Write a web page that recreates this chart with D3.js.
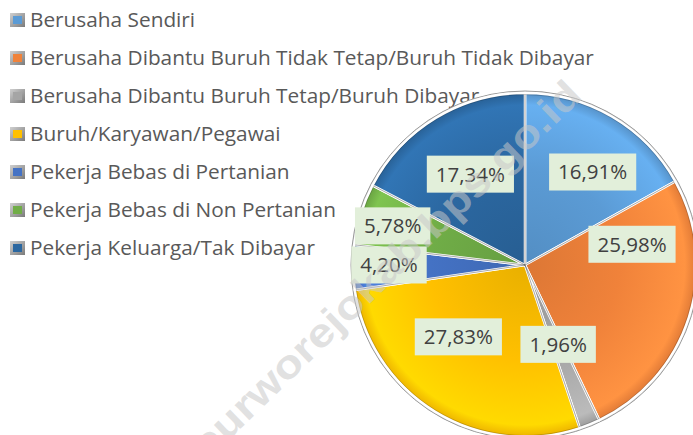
<!DOCTYPE html>
<html><head><meta charset="utf-8">
<script src="https://cdn.jsdelivr.net/npm/d3@7/dist/d3.min.js"></script>
<style>html,body{margin:0;padding:0;background:#fff;overflow:hidden}svg{display:block}</style>
</head><body>
<svg id="c" width="693" height="435"></svg>
<script>
const categories = [
  "Berusaha Sendiri",
  "Berusaha Dibantu Buruh Tidak Tetap/Buruh Tidak Dibayar",
  "Berusaha Dibantu Buruh Tetap/Buruh Dibayar",
  "Buruh/Karyawan/Pegawai",
  "Pekerja Bebas di Pertanian",
  "Pekerja Bebas di Non Pertanian",
  "Pekerja Keluarga/Tak Dibayar"
];
const values = [16.91, 25.98, 1.96, 27.83, 4.20, 5.78, 17.34];
const colors = ["#5B9BD5", "#F0823A", "#A5A5A5", "#FFC000", "#4472C4", "#70AD47", "#2B67A0"];
// label placement (radius px, angle nudge deg) relative to slice centroid angle
const labelRadius = [115, 109, 86, 98, 136, 138, 106];
const labelNudge = [5.6, -28.6, -0.6, 11.3, 0.8, -0.7, 0.2];
const watermark = "purworejokab.bps.go.id";

const svg = d3.select("#c");
const W = 693, H = 435;
const cx = 525, cy = 265, R = 172;
const defs = svg.append("defs");

// ---- Legend ----
const legend = svg.append("g");
const rowY = d3.scalePoint().domain(d3.range(categories.length)).range([20, 248]);
const fam = "'Open Sans','Noto Sans','Liberation Sans',sans-serif";
categories.forEach((c, i) => {
  const y = rowY(i);
  const gid = "lg" + i;
  const g = defs.append("linearGradient").attr("id", gid).attr("x1", 0).attr("y1", 0).attr("x2", 1).attr("y2", 1);
  g.append("stop").attr("offset", 0).attr("stop-color", "#d0d0d0");
  g.append("stop").attr("offset", 1).attr("stop-color", "#7a7a7a");
  legend.append("rect").attr("x", 10).attr("y", y - 7).attr("width", 15).attr("height", 14).attr("fill", `url(#${gid})`);
  legend.append("rect").attr("x", 13).attr("y", y - 4).attr("width", 9).attr("height", 8).attr("fill", colors[i]);
  legend.append("text").attr("class", "lt").attr("x", 30).attr("y", y).attr("dy", "0.36em")
    .attr("font-family", fam).attr("font-size", 19).attr("fill", "#595959").text(c);
});
{
  const t = legend.selectAll("text.lt").nodes()[1];
  const w = t.getComputedTextLength();
  const fs = 19 * 564 / w;
  legend.selectAll("text.lt").attr("font-size", fs);
}

// ---- Pie ----
const pie = d3.pie().sort(null).value(d => d)(values);
const arc = d3.arc().innerRadius(0).outerRadius(R);
const pg = svg.append("g").attr("transform", `translate(${cx},${cy})`);

pg.append("circle").attr("r", R + 2).attr("fill", "#c9c9c9");
pg.append("circle").attr("r", R + 2).attr("fill", "none").attr("stroke", "#9a9a9a").attr("stroke-width", 1);

pie.forEach((p, i) => {
  const base = d3.color(colors[i]);
  const gid = "rg" + i;
  const g = defs.append("radialGradient").attr("id", gid).attr("gradientUnits", "userSpaceOnUse")
    .attr("cx", 0).attr("cy", 0).attr("r", R);
  g.append("stop").attr("offset", 0).attr("stop-color", base.darker(0.25));
  g.append("stop").attr("offset", 0.55).attr("stop-color", base);
  g.append("stop").attr("offset", 0.93).attr("stop-color", base.brighter(0.35));
  g.append("stop").attr("offset", 1).attr("stop-color", base.darker(0.2));
});

pg.selectAll("path.s").data(pie).join("path").attr("class", "s")
  .attr("d", arc)
  .attr("fill", (d, i) => `url(#rg${i})`)
  .attr("stroke", "#ffffff").attr("stroke-width", 2.5).attr("stroke-linejoin", "round");

pg.selectAll("path.e").data(pie).join("path").attr("class", "e")
  .attr("d", d3.arc().innerRadius(0).outerRadius(R - 1.5))
  .attr("fill", "none").attr("stroke", "rgba(0,0,0,0.18)").attr("stroke-width", 1);

// ---- Labels ----
const fmt = v => d3.format(".2f")(v).replace(".", ",") + "%";
const lg = pg.append("g");
pie.forEach((p, i) => {
  const a = (p.startAngle + p.endAngle) / 2 + labelNudge[i] * Math.PI / 180;
  const x = Math.sin(a) * labelRadius[i], y = -Math.cos(a) * labelRadius[i];
  const g = lg.append("g").attr("transform", `translate(${x},${y})`);
  const rect = g.append("rect").attr("fill", "#E2EFDA");
  const t = g.append("text").attr("text-anchor", "middle").attr("dy", "0.36em")
    .attr("font-family", fam).attr("font-size", 20.5).attr("fill", "#404040").text(fmt(values[i]));
  const tw = t.node().getComputedTextLength();
  const bw = tw + 18, bh = 37;
  rect.attr("x", -bw / 2).attr("y", -bh / 2).attr("width", bw).attr("height", bh);
});

// ---- Watermark ----
svg.append("text").attr("x", 0).attr("y", 0)
  .attr("transform", "translate(206,462) rotate(-44)")
  .attr("font-family", "'Liberation Sans',Arial,sans-serif").attr("font-weight", "bold")
  .attr("font-size", 40).attr("textLength", 525).attr("lengthAdjust", "spacingAndGlyphs")
  .attr("fill", "rgba(200,200,200,0.55)").text(watermark);
</script>
</body></html>
